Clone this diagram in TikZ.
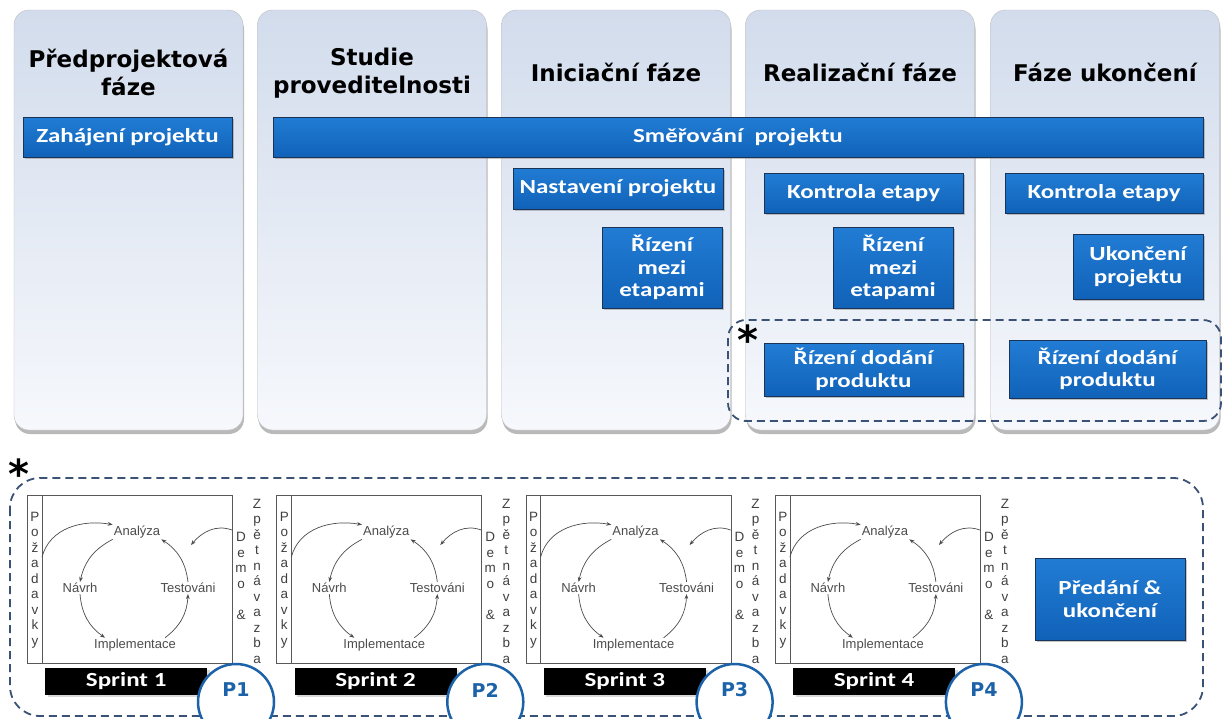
\documentclass[tikz,border=0pt]{standalone}
\usepackage{fontspec}
\setmainfont{Carlito}[FakeStretch=1.25]
\newfontfamily\headfont{DejaVu Sans}
\newfontfamily\cycfont{Liberation Sans}
\usetikzlibrary{positioning, shadows, arrows.meta, calc}
\definecolor{paneltop}{RGB}{210,220,236}
\definecolor{panelbot}{RGB}{246,248,252}
\definecolor{blueup}{RGB}{34,124,212}
\definecolor{bluedown}{RGB}{16,98,184}
\definecolor{blueedge}{RGB}{26,52,88}
\definecolor{dashcol}{RGB}{58,82,118}
\definecolor{pcol}{RGB}{28,98,168}

\begin{document}
\begin{tikzpicture}[x=1pt, y=-1pt,
  panel/.style = {rounded corners=15pt, draw=gray!50, top color=paneltop, bottom color=panelbot,
    minimum width=229pt, minimum height=420pt,
    drop shadow={shadow xshift=1pt, shadow yshift=-4pt, opacity=.55}},
  head/.style = {font=\headfont\bfseries\fontsize{23}{28}\selectfont, align=center},
  bluebox/.style = {draw=blueedge, line width=1pt, top color=blueup, bottom color=bluedown,
    text=white, font=\bfseries\fontsize{20}{22.5}\selectfont, align=center, inner sep=0pt,
    drop shadow={shadow xshift=1.5pt, shadow yshift=-1.5pt, opacity=.45}},
  wh/.style 2 args = {minimum width=#1pt, minimum height=#2pt},
  group/.style = {draw=dashcol, line width=1.8pt, dash pattern=on 8pt off 5pt},
  asterisk/.style = {font=\headfont\bfseries\fontsize{40}{40}\selectfont, inner sep=0pt},
  sprint/.style = {draw=gray!70!black, line width=.7pt, fill=white},
  cyc/.style = {font=\cycfont\fontsize{13}{15}\selectfont, text=black!70, inner sep=1pt},
  vert/.style = {font=\cycfont\fontsize{13.5}{15.5}\selectfont, text=black!75, align=center, inner sep=0pt},
  cyarr/.style = {-{Stealth[length=5pt]}, black!70, line width=.7pt},
  bar/.style = {fill=black, text=white, font=\bfseries\fontsize{20}{20}\selectfont,
    minimum width=162pt, minimum height=27pt, inner sep=0pt, drop shadow={opacity=.3}},
  pcirc/.style = {circle, draw=pcol, line width=2.5pt, fill=white, minimum size=76pt},
  ptext/.style = {text=pcol, font=\headfont\bfseries\fontsize{19}{19}\selectfont}
]
\useasboundingbox (0,0) rectangle (1222,718);
\fill[white] (0,0) rectangle (1222,718);

\foreach \i/\x/\t in {1/128.5/{Předprojektová\\fáze}, 2/372/{Studie\\proveditelnosti},
    3/616/{Iniciační fáze}, 4/860/{Realizační fáze}, 5/1105/{Fáze ukončení}}{
  \node[panel] (ph\i) at (\x,220) {};
  \node[head] (h\i) at ([yshift=-63pt]ph\i.north) {\t};
}

\node[bluebox, wh={209}{40}] (zah) at (127.5,137) {Zahájení projektu};
\node[bluebox, wh={930}{40}] (smer) at (738,137) {Směřování\ \ projektu};
\node[bluebox, wh={210}{41}] (nast) at (618,188.5) {Nastavení projektu};
\node[bluebox, wh={120}{81}] (riz3) at (662,267.5) {Řízení\\mezi\\etapami};
\node[bluebox, wh={199}{40}] (kon4) at (863.5,193) {Kontrola etapy};
\node[bluebox, wh={120}{81}] (riz4) at (893,267.5) {Řízení\\mezi\\etapami};
\node[bluebox, wh={199}{53}] (dod4) at (863.5,369.5) {Řízení dodání\\produktu};
\node[bluebox, wh={198}{40}] (kon5) at (1104,193) {Kontrola etapy};
\node[bluebox, wh={130}{65}] (uko) at (1138,266.5) {Ukončení\\projektu};
\node[bluebox, wh={197}{58}] (dod5) at (1107.5,369) {Řízení dodání\\produktu};

\draw[group, rounded corners=18pt] (728,320) rectangle (1221,421);
\node[asterisk] (st1) at (748,340) {*};

\draw[group, rounded corners=30pt] (10,478) rectangle (1203,716);
\node[asterisk] (st2) at (19,474) {*};

\foreach \i in {1,...,4}{
  \pgfmathsetmacro\sx{27+249.3*(\i-1)}
  \begin{scope}[shift={(\sx,495)}]
    \node[sprint, anchor=north west, wh={205}{168}, inner sep=0pt] (sb\i) at (0,0) {};
    \draw[sprint] ([xshift=15pt]sb\i.north west) -- ([xshift=15pt]sb\i.south west);
    \node[cyc] (an\i) at (110,37) {Analýza};
    \node[cyc] (nv\i) at (53,93) {Návrh};
    \node[cyc] (ts\i) at (161,93) {Testováni};
    \node[cyc] (im\i) at (108,150) {Implementace};
    \node[vert] (pz\i) at (8,85) {P\\o\\ž\\a\\d\\a\\v\\k\\y};
    \node[vert] (dm\i) at (214,81) {D\\e\\m\\o\\[15.5pt]\&};
    \node[vert] (zv\i) at (230,86) {Z\\p\\ě\\t\\n\\á\\v\\a\\z\\b\\a};
    \draw[cyarr] (an\i.south west) to[bend right=25] (nv\i.north);
    \draw[cyarr] (nv\i.south) to[bend right=25] ([xshift=12pt]im\i.north west);
    \draw[cyarr] ([xshift=-12pt]im\i.north east) to[bend right=25] (ts\i.south);
    \draw[cyarr] (ts\i.north) to[bend right=25] (an\i.south east);
    \coordinate (rq\i) at (15,62);
    \draw[cyarr] (rq\i) to[out=75, in=170] (an\i.north west);
    \coordinate (fb\i) at (205,35);
    \coordinate (fe\i) at (164,50);
    \draw[cyarr] (fb\i) to[out=160, in=50] (fe\i);
    \node[bar, below right=4pt and 18pt of sb\i.south west] (sp\i) {Sprint \i};
    \node[pcirc] (p\i) at (209,207) {};
    \node[ptext] (pt\i) at ([yshift=12pt]p\i.center) {P\i};
  \end{scope}
}

\node[bluebox, wh={150}{82}] (pred) at (1110,599) {Předání \&\\ukončení};
\end{tikzpicture}
\end{document}
